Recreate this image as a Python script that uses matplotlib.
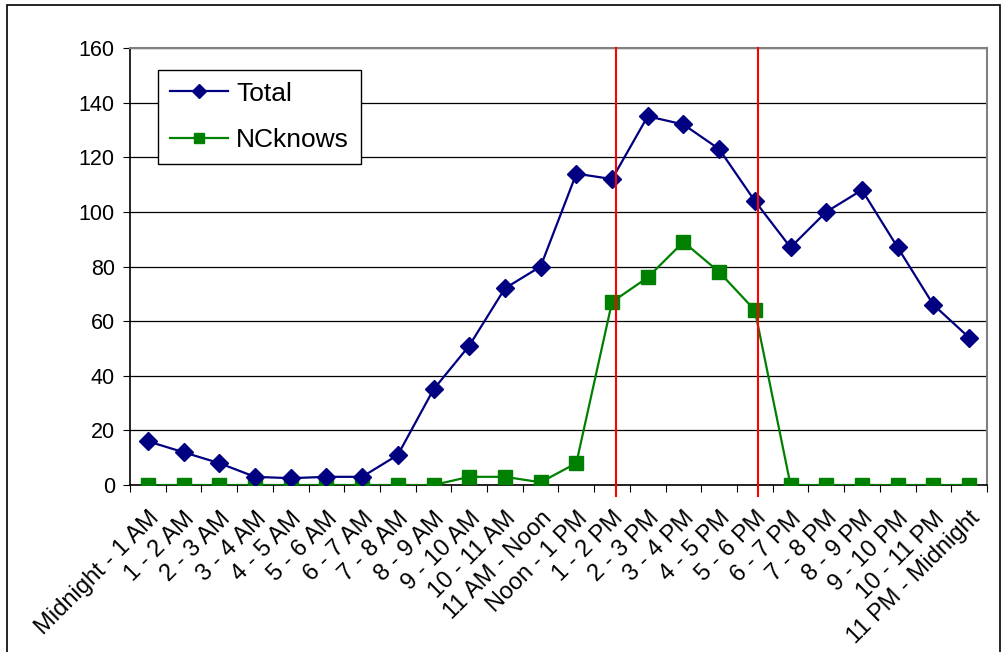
from matplotlib import pyplot as plt
from matplotlib.lines import Line2D
from matplotlib.patches import Rectangle
import numpy as np

plt.rcParams['font.family'] = ['Liberation Sans', 'DejaVu Sans']

hours = ['Midnight - 1 AM', '1 - 2 AM', '2 - 3 AM', '3 - 4 AM', '4 - 5 AM', '5 - 6 AM',
         '6 - 7 AM', '7 - 8 AM', '8 - 9 AM', '9 - 10 AM', '10 - 11 AM', '11 AM - Noon',
         'Noon - 1 PM', '1 - 2 PM', '2 - 3 PM', '3 - 4 PM', '4 - 5 PM', '5 - 6 PM',
         '6 - 7 PM', '7 - 8 PM', '8 - 9 PM', '9 - 10 PM', '10 - 11 PM', '11 PM - Midnight']
total = [16, 12, 8, 3, 2.5, 3, 3, 11, 35, 51, 72, 80,
         114, 112, 135, 132, 123, 104, 87, 100, 108, 87, 66, 54]
ncknows = [0, 0, 0, 0, 0, 0, 0, 0, 0, 3, 3, 1,
           8, 67, 76, 89, 78, 64, 0, 0, 0, 0, 0, 0]
# red marker lines (category position)
red_lines = [13.12, 17.1]

fig = plt.figure(figsize=(10.05, 6.52), dpi=100)
ax = fig.add_axes([0.1294, 0.2561, 0.982 - 0.1294, 0.9264 - 0.2561])

x = np.arange(len(hours))
ax.plot(x, total, color='#000080', lw=1.6, marker='D', ms=9, label='Total', zorder=4)
ax.plot(x, ncknows, color='#008000', lw=1.6, marker='s', ms=9.5, label='NCknows', zorder=3)

for xr in red_lines:
    ax.add_line(Line2D([xr, xr], [1.0, -0.026], color='#FF0000', lw=1.5,
                       transform=ax.get_xaxis_transform(), clip_on=False, zorder=5))

ax.set_xlim(-0.5, len(hours) - 0.5)
ax.set_ylim(0, 160)
ax.set_yticks(np.arange(0, 161, 20))
ax.yaxis.grid(True, color='black', lw=0.9)
ax.set_axisbelow(True)

ax.set_xticks(np.arange(-0.5, len(hours), 1.0))
ax.set_xticklabels([])
ax.set_xticks(x, minor=True)
ax.set_xticklabels(hours, minor=True, rotation=45, ha='right', rotation_mode='anchor',
                   fontsize=17)
ax.tick_params(axis='x', which='minor', length=0, pad=16)
ax.tick_params(axis='x', which='major', length=5, direction='out', color='black')
ax.tick_params(axis='y', length=5, direction='out', labelsize=15.5, pad=6)

for s in ['top', 'right']:
    ax.spines[s].set_color('#808080')
    ax.spines[s].set_linewidth(1.5)
for s in ['left', 'bottom']:
    ax.spines[s].set_color('black')
    ax.spines[s].set_linewidth(1.2)

leg = ax.legend(loc='upper left', bbox_to_anchor=(0.033, 0.95), fontsize=19, frameon=True,
                fancybox=False, edgecolor='black', framealpha=1, handlelength=2.2,
                handletextpad=0.3, borderpad=0.45, labelspacing=0.85, markerscale=0.8,
                borderaxespad=0)
leg.get_frame().set_linewidth(1.0)

fig.patches.append(Rectangle((0.007, -0.01), 0.988, 1.002, transform=fig.transFigure,
                             fill=False, edgecolor='black', lw=1.2))

fig.savefig('out.png', dpi=100)
